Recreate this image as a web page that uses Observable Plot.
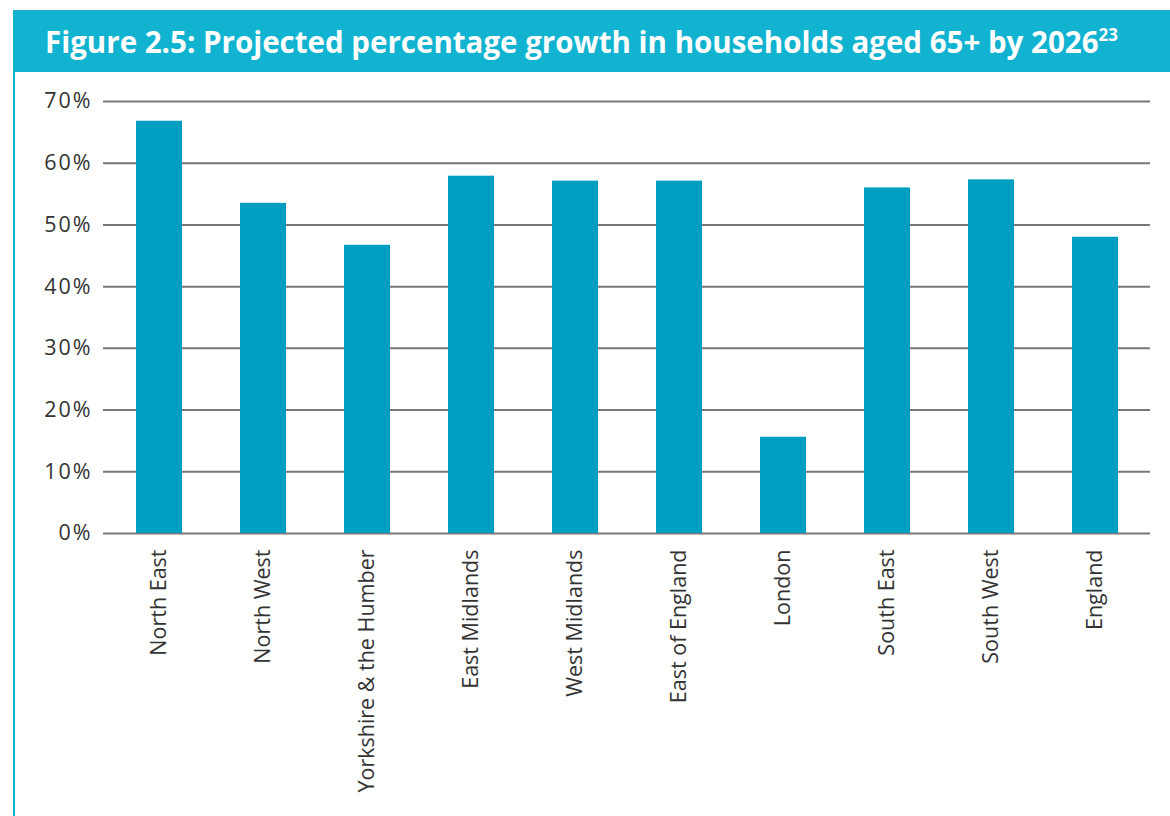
<!DOCTYPE html>
<html>
<head>
<meta charset="utf-8">
<script src="https://cdn.jsdelivr.net/npm/d3@7"></script>
<script src="https://cdn.jsdelivr.net/npm/@observablehq/plot@0.6"></script>
<style>
  html, body { margin: 0; padding: 0; background: #fff; width: 1170px; height: 816px; overflow: hidden; }
  #frame { position: absolute; left: 13px; top: 10px; width: 1157px; height: 806px; border-left: 2px solid #12b3d0; box-sizing: border-box; }
  #title { position: absolute; left: 13px; top: 10px; width: 1157px; height: 62px; background: #12b3d0; border-top: 1px solid #2aa8c4; box-sizing: border-box;
    font-family: "Open Sans", sans-serif; font-weight: bold; font-size: 29.5px; color: #fff; line-height: 62px; padding-left: 32px; letter-spacing: 0px; white-space: nowrap; }
  #title sup { font-size: 17px; vertical-align: 0; position: relative; top: -12px; letter-spacing: 0; }
  #chart { position: absolute; left: 0; top: 72px; }
  #chart svg text { font-family: "Open Sans", sans-serif; font-size: 21.5px !important; fill: #333; }
  #chart svg g[aria-label="y-axis tick label"] text { letter-spacing: 2px; }
</style>
</head>
<body>
<div id="frame"></div>
<div id="title">Figure 2.5: Projected percentage growth in households aged 65+ by 2026<sup>23</sup></div>
<div id="chart"></div>
<script>
const regions = ["North East", "North West", "Yorkshire & the Humber", "East Midlands", "West Midlands", "East of England", "London", "South East", "South West", "England"];
const growth = [66.8, 53.5, 46.7, 57.9, 57.1, 57.1, 15.6, 56.0, 57.3, 48.0];
const yTicks = [0, 10, 20, 30, 40, 50, 60, 70];

const data = regions.map((r, i) => ({region: r, value: growth[i]}));

const chart = Plot.plot({
  width: 1170,
  height: 744,
  marginLeft: 103,
  marginRight: 20,
  marginTop: 29,
  marginBottom: 283,
  style: {fontFamily: "'Open Sans', sans-serif", fontSize: "21.5px", color: "#333", background: "transparent"},
  x: {domain: regions, paddingInner: 0.56, paddingOuter: 0.28, label: null, tickSize: 0, tickPadding: 16, tickRotate: -90},
  y: {domain: [0, 70], ticks: yTicks, tickFormat: d => d + "%", label: null, tickSize: 0, tickPadding: 11},
  marks: [
    Plot.ruleY(yTicks, {stroke: "#777", strokeWidth: 2}),
    Plot.barY(data, {x: "region", y: "value", fill: "#009fc2"})
  ]
});
document.getElementById("chart").appendChild(chart);
</script>
</body>
</html>
